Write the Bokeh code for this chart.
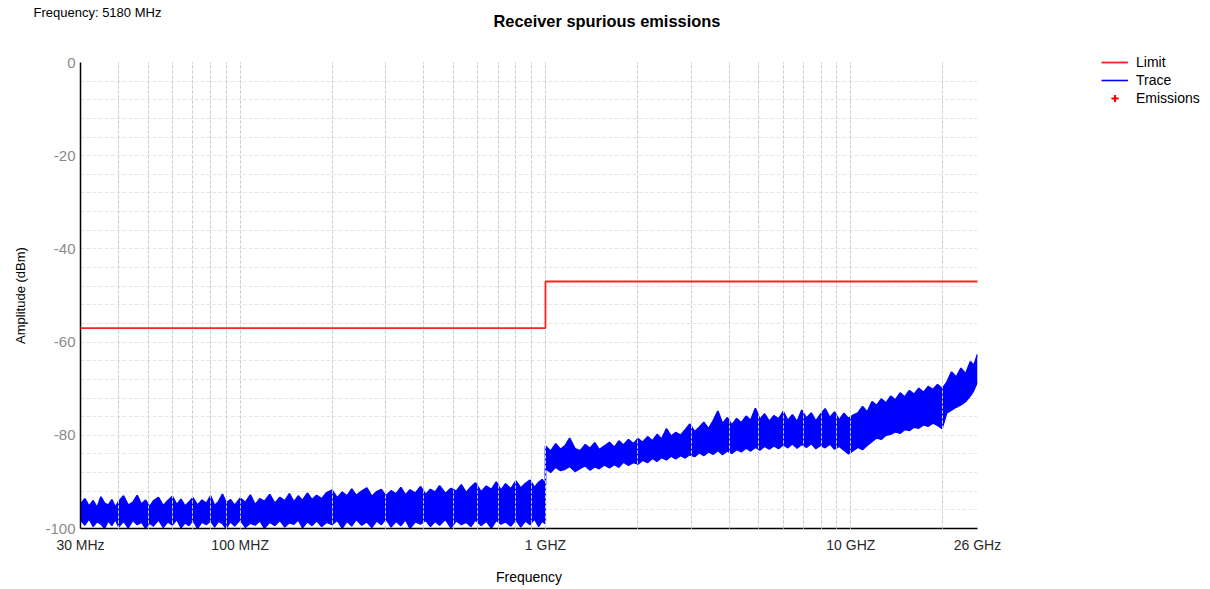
import math
from bokeh.plotting import figure
from bokeh.models import Range1d, FixedTicker, Grid, Legend, LegendItem, Title
from bokeh.embed import file_html
from bokeh.resources import INLINE

# ---------------- data ----------------
limit_mhz = [30, 1000, 1000, 26000]
limit_dbm = [-57, -57, -47, -47]

# measured trace, read from the picture as upper / lower envelope of the noisy sweep
# band 1: 30 MHz - 1 GHz
trace1_mhz = [30, 31, 32, 33, 34, 35, 36, 37, 38, 39, 40,
              41.5, 43, 44.5, 46, 47.5, 49, 50.5, 52, 54, 56, 58,
              60, 62, 64, 66, 68, 70, 72.5, 75, 77.5, 80, 82.5, 85,
              87.5, 90, 93, 96, 100, 104, 108, 112, 116, 120, 125, 130,
              135, 140, 145, 150, 155, 160, 166, 172, 178, 185, 192, 200,
              208, 216, 224, 232, 240, 250, 260, 270, 280, 290, 300, 312,
              324, 336, 348, 360, 375, 390, 405, 420, 435, 450, 470, 490,
              510, 530, 550, 570, 590, 615, 640, 665, 690, 715, 740, 770,
              800, 830, 860, 890, 920, 950, 975, 1000]
trace1_hi = [-94.8, -93.6, -95.2, -94.0, -95.5, -93.2, -94.6, -95.0, -93.8, -95.4, -94.2,
             -93.0, -95.0, -94.4, -92.9, -94.8, -93.9, -95.3, -94.1, -93.3, -95.1, -94.0,
             -93.1, -94.9, -93.7, -95.2, -94.3, -93.4, -95.0, -93.9, -94.6, -93.0, -95.1, -94.2,
             -92.6, -94.5, -93.8, -95.0, -93.5, -94.4, -92.8, -94.9, -93.6, -94.2, -92.7, -94.6,
             -93.3, -94.1, -92.5, -94.3, -93.0, -94.0, -92.4, -93.8, -92.9, -93.6, -92.3, -91.8,
             -93.4, -92.2, -93.0, -91.5, -92.9, -92.0, -91.3, -93.1, -92.1, -91.6, -93.0, -91.9,
             -92.6, -91.2, -92.8, -91.7, -92.4, -91.0, -92.7, -91.6, -92.2, -90.8, -92.5, -91.4,
             -92.0, -90.6, -92.3, -91.1, -90.2, -92.1, -90.9, -91.6, -90.0, -91.8, -90.4, -91.5,
             -89.8, -91.3, -90.3, -89.6, -91.2, -90.1, -89.5, -90.5]
trace1_lo = [-98.2, -99.3, -98.0, -99.6, -98.6, -99.1, -100.0, -98.4, -99.4, -98.1, -99.7,
             -98.5, -99.9, -98.3, -99.2, -98.7, -100.0, -98.9, -99.5, -98.2, -99.8, -98.6,
             -99.3, -98.1, -99.9, -98.8, -99.4, -98.3, -100.0, -98.7, -99.2, -98.4, -99.7, -98.5,
             -99.0, -100.0, -98.6, -99.5, -98.2, -99.8, -98.9, -99.3, -98.4, -100.0, -98.7, -99.4,
             -98.3, -99.7, -98.8, -99.1, -98.2, -99.9, -98.6, -99.4, -98.4, -99.6, -98.7, -99.2,
             -98.3, -100.0, -98.5, -99.5, -98.1, -99.3, -98.6, -99.8, -98.4, -99.2, -98.0, -99.7,
             -98.5, -99.4, -98.2, -100.0, -98.6, -99.1, -98.3, -99.6, -98.5, -99.3, -98.1, -99.9,
             -98.4, -99.2, -98.7, -99.6, -98.2, -99.4, -98.5, -100.0, -98.3, -99.1, -98.6, -99.5,
             -98.2, -99.7, -98.4, -99.2, -98.0, -99.6, -98.5, -99.0]

# band 2: 1 GHz - 26 GHz
trace2_mhz = [1000, 1040, 1080, 1120, 1160, 1200, 1250, 1300, 1350, 1400,
              1450, 1500, 1560, 1620, 1680, 1740, 1800, 1870, 1940, 2010,
              2080, 2160, 2240, 2320, 2400, 2490, 2580, 2670, 2770, 2870,
              2970, 3080, 3190, 3300, 3420, 3540, 3670, 3800, 3940, 4080,
              4230, 4380, 4540, 4700, 4870, 5040, 5220, 5410, 5600, 5800,
              6010, 6220, 6440, 6670, 6910, 7160, 7420, 7680, 7960, 8240,
              8540, 8840, 9160, 9490, 9830, 10180, 10550, 10930, 11320, 11730,
              12150, 12590, 13040, 13510, 14000, 14500, 15020, 15560, 16120, 16700,
              17300, 17920, 18570, 19230, 19920, 20640, 21380, 22150, 22950, 23770,
              24630, 25300, 26000]
trace2_hi = [-82.3, -83.4, -81.8, -83.0, -82.2, -80.6, -82.9, -83.3, -82.0, -82.8,
             -81.6, -83.1, -82.3, -81.5, -82.6, -81.2, -82.1, -80.9, -81.8, -80.7,
             -81.5, -80.3, -81.2, -79.8, -80.8, -78.6, -80.2, -79.4, -80.0, -78.8,
             -77.6, -79.2, -78.3, -77.2, -78.6, -76.9, -74.8, -77.5, -76.2, -77.8,
             -76.4, -77.3, -75.9, -76.8, -74.2, -76.6, -75.4, -77.0, -75.8, -76.5,
             -74.9, -76.8, -75.6, -77.1, -74.6, -76.3, -75.2, -76.9, -75.5, -74.3,
             -76.2, -75.0, -76.7, -75.3, -76.4, -75.7, -75.2, -73.8, -75.0, -72.8,
             -73.6, -72.2, -73.1, -71.6, -72.4, -70.9, -71.8, -70.4, -71.2, -69.9,
             -70.8, -69.5, -70.2, -69.1, -70.0, -68.6, -66.4, -67.5, -65.6, -66.8,
             -64.2, -65.0, -62.6]
trace2_lo = [-87.2, -88.0, -86.9, -87.6, -87.3, -86.7, -87.8, -87.1, -86.6, -87.5,
             -86.8, -87.2, -86.4, -87.0, -86.3, -86.9, -85.8, -86.5, -85.9, -86.2,
             -85.4, -85.9, -85.0, -85.6, -84.8, -85.3, -84.5, -85.1, -84.4, -84.9,
             -84.2, -84.6, -83.8, -84.4, -83.6, -84.1, -83.3, -84.2, -83.4, -83.9,
             -83.1, -83.6, -82.8, -83.4, -82.6, -83.2, -82.4, -83.0, -82.3, -82.9,
             -82.1, -82.7, -81.9, -82.8, -82.0, -82.6, -81.8, -82.9, -82.2, -82.7,
             -81.9, -83.0, -82.4, -83.2, -84.0, -83.3, -82.6, -83.1, -82.2, -81.4,
             -80.6, -80.9, -80.0, -79.8, -79.3, -79.6, -78.8, -79.0, -78.3, -78.5,
             -77.8, -78.1, -77.4, -77.9, -78.6, -75.2, -74.6, -74.0, -73.5, -72.8,
             -71.6, -70.4, -68.6]

# no emissions were found (empty series, shown in the legend only)
emis_mhz = [float("nan")]
emis_dbm = [float("nan")]

x_ticks = [30, 100, 1000, 10000, 26000]
x_tick_labels = ["30 MHz", "100 MHZ", "1 GHZ", "10 GHZ", "26 GHz"]
y_ticks = [-100, -80, -60, -40, -20, 0]
y_tick_labels = ["-100", "-80", "-60", "-40", "-20", "0"]

trace_mhz = trace1_mhz + trace2_mhz
trace_hi = trace1_hi + trace2_hi
trace_lo = trace1_lo + trace2_lo

# ---------------- figure ----------------
FONT = "Liberation Sans"
X0, X1 = 30, 26000

p = figure(frame_width=897, frame_height=466, x_axis_type="log",
           x_range=Range1d(X0, X1), y_range=Range1d(-100, 0),
           output_backend="svg", toolbar_location=None,
           min_border_left=80, min_border_right=233, min_border_top=62, min_border_bottom=61)
p.title.visible = False
p.outline_line_color = None
p.background_fill_color = "white"
p.border_fill_color = "white"

# grids
dashed_x = [40, 50, 60, 70, 80, 90, 100, 200, 300, 400, 500, 600, 700, 800, 900, 1000,
            2000, 3000, 4000, 5000, 6000, 7000, 8000, 9000, 10000, 20000, 26000]
lx0, lx1 = math.log10(X0), math.log10(X1)
light_x = [10 ** (lx0 + k * (lx1 - lx0) / 25) for k in range(1, 25)]
light_grid = Grid(dimension=0, ticker=FixedTicker(ticks=light_x),
                  grid_line_color="#ececec", grid_line_dash="3 2", grid_line_width=1)
p.add_layout(light_grid)

p.xgrid.ticker = FixedTicker(ticks=dashed_x)
p.xgrid.grid_line_color = "#cccccc"
p.xgrid.grid_line_dash = "3 2"
p.xgrid.grid_line_width = 1
p.xgrid.grid_line_alpha = 0.9
p.xgrid.level = "guide"
p.ygrid.ticker = FixedTicker(ticks=list(range(-100, 1, 4)))
p.ygrid.grid_line_color = "#e6e6e6"
p.ygrid.grid_line_dash = "4 2"

# axes
p.xaxis.ticker = FixedTicker(ticks=x_ticks)
p.xaxis.major_label_overrides = dict(zip(x_ticks, x_tick_labels))
p.yaxis.ticker = FixedTicker(ticks=y_ticks)
p.yaxis.major_label_overrides = dict(zip(y_ticks, y_tick_labels))
for ax in (p.xaxis[0], p.yaxis[0]):
    ax.axis_line_color = "black"
    ax.axis_line_width = 1.5
    ax.major_tick_line_color = None
    ax.minor_tick_line_color = None
    ax.major_label_text_font = FONT
    ax.major_label_text_font_size = "14px"
    ax.axis_label_text_font = FONT
    ax.axis_label_text_font_size = "14px"
    ax.axis_label_text_font_style = "normal"
    ax.axis_label_text_color = "black"
p.xaxis.major_label_text_color = "#2a2a2a"
p.yaxis.major_label_text_color = "#8a8a8a"
p.yaxis.major_label_text_font_size = "15px"
p.yaxis.axis_label_text_font_size = "13px"
p.yaxis.major_tick_out = 0
p.xaxis.major_label_standoff = 2
p.yaxis.major_label_standoff = 5
p.xaxis.axis_label = "Frequency"
p.xaxis.axis_label_standoff = 13
p.yaxis.axis_label = "Amplitude (dBm)"
p.yaxis.axis_label_standoff = 14

# data renderers
p.varea(x=trace_mhz, y1=trace_lo, y2=trace_hi, fill_color="#0000ff")
r_trace = p.line(trace_mhz, trace_hi, line_color="#0000ff", line_width=1.6)
p.line(trace_mhz, trace_lo, line_color="#0000ff", line_width=1.2)
r_limit = p.line(limit_mhz, limit_dbm, line_color="#ff2020", line_width=1.8, level="annotation")
r_emis = p.scatter(emis_mhz, emis_dbm, marker="cross", size=8, line_width=2.2,
                   color="#ff0000")

# legend (right side panel)
legend = Legend(items=[LegendItem(label="Limit", renderers=[r_limit]),
                       LegendItem(label="Trace", renderers=[r_trace]),
                       LegendItem(label="Emissions", renderers=[r_emis])],
                location=(124, 421), orientation="vertical",
                padding=0, margin=0, spacing=0, glyph_width=27, glyph_height=18,
                label_height=18, label_standoff=8, border_line_color=None,
                background_fill_alpha=0, label_text_font=FONT,
                label_text_font_size="14px", label_text_color="black")
p.add_layout(legend, "right")

# titles (stacked from the frame outward)
p.add_layout(Title(text=" ", text_font_size="1px", standoff=38), "above")
p.add_layout(Title(text="Receiver spurious emissions", align="left", offset=413,
                   vertical_align="top", standoff=-20, text_font=FONT,
                   text_font_size="16.4px", text_font_style="bold", text_color="black"), "above")
p.add_layout(Title(text="Frequency: 5180 MHz", align="left", offset=-47,
                   vertical_align="bottom", standoff=4, text_font=FONT,
                   text_font_size="13px", text_font_style="normal", text_color="black"), "above")

open("out.html", "w").write(file_html(p, INLINE))
